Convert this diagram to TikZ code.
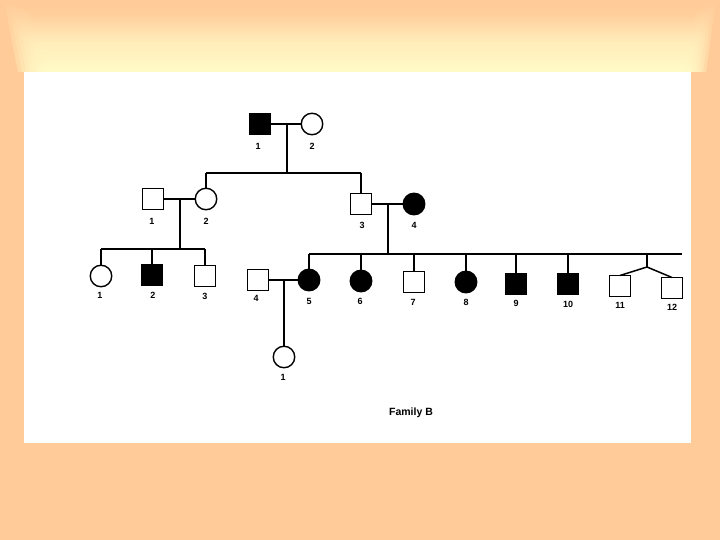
\documentclass[tikz,border=0pt]{standalone}
\usepackage{fontspec}
\setmainfont{Liberation Sans}
\definecolor{peach}{RGB}{255,204,153}
\definecolor{glow}{RGB}{255,255,204}
\tikzset{
  sym/.style={draw=black, line width=1.4pt, fill=white, inner sep=0pt, outer sep=0pt},
  male/.style={sym, rectangle, minimum size=21pt},
  female/.style={sym, circle, minimum size=21.5pt},
  aff/.style={fill=black},
  lbl/.style={font=\fontsize{9}{10}\selectfont\bfseries, inner sep=0pt},
  ln/.style={line width=1.5pt, line cap=butt},
}
\begin{document}
\begin{tikzpicture}[x=1pt,y=-1pt]
\useasboundingbox (0,0) rectangle (720,540);
% background
\fill[peach] (0,0) rectangle (720,540);
\foreach \i in {0,...,7}{
  \shade[top color=peach, bottom color=glow, middle color=glow!70!peach, fill opacity=0.3]
    ({4+4*\i},{0+2*\i}) -- ({716-3*\i},{0+2*\i}) -- ({706-3*\i},72) -- ({18+4*\i},72) -- cycle;
}
\fill[white] (24,72) rectangle (691,443);

% Generation I
\node[male, aff] (I1) at (260,124) {};
\node[female] (I2) at (312,124) {};
\node[lbl] (I1l) at (258,146) {1};
\node[lbl] (I2l) at (312,146) {2};
\coordinate (m1) at (287,124);
\coordinate (s1) at (287,173);
\coordinate (s1a) at (206,173);
\coordinate (s1b) at (361,173);
\draw[ln] (I1) -- (I2);
\draw[ln] (m1) -- (s1);
\draw[ln] (s1a) -- (s1b);

% Generation II
\node[male] (II1) at (153,199) {};
\node[female] (II2) at (206,199) {};
\node[male] (II3) at (361,204) {};
\node[female, aff] (II4) at (414,204) {};
\node[lbl] (II1l) at (152,221) {1};
\node[lbl] (II2l) at (206,221) {2};
\node[lbl] (II3l) at (362,225) {3};
\node[lbl] (II4l) at (414,225) {4};
\draw[ln] (s1a) -- (II2.north);
\draw[ln] (s1b) -- (II3.north);
\draw[ln] (II1) -- (II2);
\draw[ln] (II3) -- (II4);
\coordinate (m2) at (180,199);
\coordinate (s2) at (180,249);
\coordinate (s2a) at (101,249);
\coordinate (s2b) at (205,249);
\draw[ln] (m2) -- (s2);
\draw[ln] (s2a) -- (s2b);
\coordinate (m3) at (388,204);
\coordinate (s3) at (388,254);
\coordinate (s3a) at (309,254);
\coordinate (s3b) at (682,254);
\draw[ln] (m3) -- (s3);
\draw[ln] (s3a) -- (s3b);

% Generation III, left family
\node[female] (III1) at (101,276) {};
\node[male, aff] (III2) at (152,275) {};
\node[male] (III3) at (205,276) {};
\node[lbl] (III1l) at (100,295) {1};
\node[lbl] (III2l) at (153,295) {2};
\node[lbl] (III3l) at (205,296) {3};
\draw[ln] (s2a) -- (III1.north);
\draw[ln] (III2.north |- s2a) -- (III2.north);
\draw[ln] (s2b) -- (III3.north);

% Generation III, right family
\node[male] (III4) at (258,280) {};
\node[female, aff] (III5) at (309,280) {};
\node[female, aff] (III6) at (361,281) {};
\node[male] (III7) at (414,282) {};
\node[female, aff] (III8) at (466,282) {};
\node[male, aff] (III9) at (516,284) {};
\node[male, aff] (III10) at (568,284) {};
\node[male] (III11) at (620,286) {};
\node[male] (III12) at (672,288) {};
\node[lbl] (III4l) at (256,298) {4};
\node[lbl] (III5l) at (309,301) {5};
\node[lbl] (III6l) at (360,301) {6};
\node[lbl] (III7l) at (413,302) {7};
\node[lbl] (III8l) at (466,302) {8};
\node[lbl] (III9l) at (516,303) {9};
\node[lbl] (III10l) at (568,304) {10};
\node[lbl] (III11l) at (620,305) {11};
\node[lbl] (III12l) at (672,307) {12};
\draw[ln] (s3a) -- (III5.north);
\foreach \n in {III6,III7,III8,III9,III10}{
  \draw[ln] (\n.north |- s3a) -- (\n.north);
}
\coordinate (tw) at (647,254);
\coordinate (twa) at (647,267);
\draw[ln] (tw) -- (twa);
\draw[ln] (twa) -- (III11.north);
\draw[ln] (twa) -- (III12.north);
\draw[ln] (III4) -- (III5);

% Generation IV
\node[female] (IV1) at (284,357) {};
\node[lbl] (IV1l) at (283,377) {1};
\coordinate (m4) at (284,280);
\draw[ln] (m4) -- (IV1.north);

\node[font=\fontsize{10.5}{12}\selectfont\bfseries, inner sep=0pt] (cap) at (411,413) {Family B};
\end{tikzpicture}
\end{document}
